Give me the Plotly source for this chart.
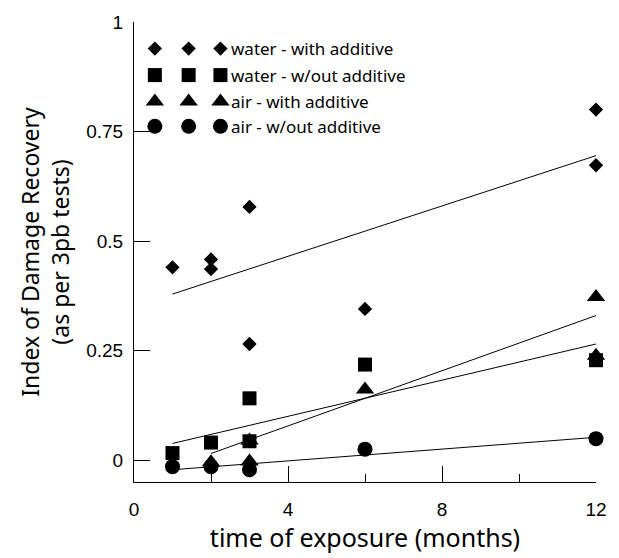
import plotly.graph_objects as go

# ---- data ----
months_water_add = [1, 2, 2, 3, 3, 6, 12, 12]
water_add = [0.44, 0.458, 0.436, 0.578, 0.265, 0.345, 0.80, 0.673]

months_water_noadd = [1, 2, 3, 3, 6, 12]
water_noadd = [0.016, 0.040, 0.141, 0.043, 0.218, 0.228]

months_air_add = [2, 3, 3, 6, 12, 12]
air_add = [-0.005, -0.003, 0.045, 0.161, 0.372, 0.238]

months_air_noadd = [1, 2, 3, 6, 12]
air_noadd = [-0.015, -0.015, -0.022, 0.025, 0.049]

# trend lines (end points)
fit_water_add_x = [1, 12]
fit_water_add_y = [0.379, 0.695]
fit_water_noadd_x = [1, 12]
fit_water_noadd_y = [0.038, 0.265]
fit_air_add_x = [2, 12]
fit_air_add_y = [0.015, 0.330]
fit_air_noadd_x = [1, 12]
fit_air_noadd_y = [-0.022, 0.052]

legend_labels = ["water - with additive", "water - w/out additive",
                 "air - with additive", "air - w/out additive"]
legend_symbols = ["diamond", "square", "triangle-up", "circle"]

x_ticks = [0, 4, 8, 12]
y_ticks = [0, 0.25, 0.5, 0.75, 1]
y_tick_text = ["0", "0.25", "0.5", "0.75", "1"]

# ---- styling / layout constants ----
FIG_W, FIG_H = 619, 558
L, R, T, B = 134, 20, 14, 76
TITLE_FONT = "Noto Sans"
TICK_FONT = "Liberation Sans"
MSIZE = {"diamond": 11, "square": 14, "triangle-up": 16, "circle": 15}

fig = go.Figure()

line_style = dict(color="black", width=1)
for fx, fy in [(fit_water_add_x, fit_water_add_y), (fit_water_noadd_x, fit_water_noadd_y),
               (fit_air_add_x, fit_air_add_y), (fit_air_noadd_x, fit_air_noadd_y)]:
    fig.add_trace(go.Scatter(x=fx, y=fy, mode="lines", line=line_style,
                             showlegend=False, hoverinfo="skip"))

series = [
    (months_water_add, water_add, "diamond"),
    (months_air_add, air_add, "triangle-up"),
    (months_water_noadd, water_noadd, "square"),
    (months_air_noadd, air_noadd, "circle"),
]
for xs, ys, sym in series:
    fig.add_trace(go.Scatter(x=xs, y=ys, mode="markers",
                             marker=dict(symbol=sym, size=MSIZE[sym], color="black",
                                         line=dict(width=0)),
                             showlegend=False, cliponaxis=False))

# ---- hand-made legend on an overlay axis measured in pixels ----
leg_cols = [155, 189, 221]
leg_rows = [41, 68, 95, 120]
for sym, row, label in zip(legend_symbols, leg_rows, legend_labels):
    fig.add_trace(go.Scatter(x=leg_cols, y=[row] * len(leg_cols), mode="markers",
                             xaxis="x2", yaxis="y2",
                             marker=dict(symbol=sym, size=MSIZE[sym], color="black",
                                         line=dict(width=0)),
                             showlegend=False, hoverinfo="skip", cliponaxis=False))
    fig.add_annotation(x=230, y=row, xref="x2", yref="y2", text=label,
                       showarrow=False, xanchor="left", yanchor="middle",
                       font=dict(family=TITLE_FONT, size=17, color="black"))

fig.update_layout(
    width=FIG_W, height=FIG_H,
    margin=dict(l=L, r=R, t=T, b=B),
    paper_bgcolor="white", plot_bgcolor="white",
    showlegend=False,
    xaxis=dict(range=[0, 12], tickvals=x_ticks, ticks="inside", ticklen=16,
               tickcolor="black", tickwidth=1,
               minor=dict(tickvals=[2, 6, 10], ticks="inside", ticklen=8,
                          tickcolor="black", tickwidth=1),
               showline=True, linecolor="black", linewidth=1, mirror=False,
               showgrid=False, zeroline=False,
               tickfont=dict(family=TICK_FONT, size=19, color="black"),
               ticklabelstandoff=10,
               title=dict(text="time of exposure (months)",
                          font=dict(family=TITLE_FONT, size=25, color="black"),
                          standoff=6)),
    yaxis=dict(range=[-0.05, 1], tickvals=y_ticks, ticktext=y_tick_text,
               ticks="inside", ticklen=16, tickcolor="black", tickwidth=1,
               showline=True, linecolor="black", linewidth=1, mirror=False,
               showgrid=False, zeroline=False,
               tickfont=dict(family=TICK_FONT, size=19, color="black"),
               ticklabelstandoff=6,
               title=dict(text="Index of Damage Recovery<br>(as per 3pb tests)",
                          font=dict(family=TITLE_FONT, size=23, color="black"),
                          standoff=10)),
    xaxis2=dict(overlaying="x", range=[L, FIG_W - R], visible=False, fixedrange=True),
    yaxis2=dict(overlaying="y", range=[FIG_H - B, T], visible=False, fixedrange=True),
)

fig.write_html("out.html")
